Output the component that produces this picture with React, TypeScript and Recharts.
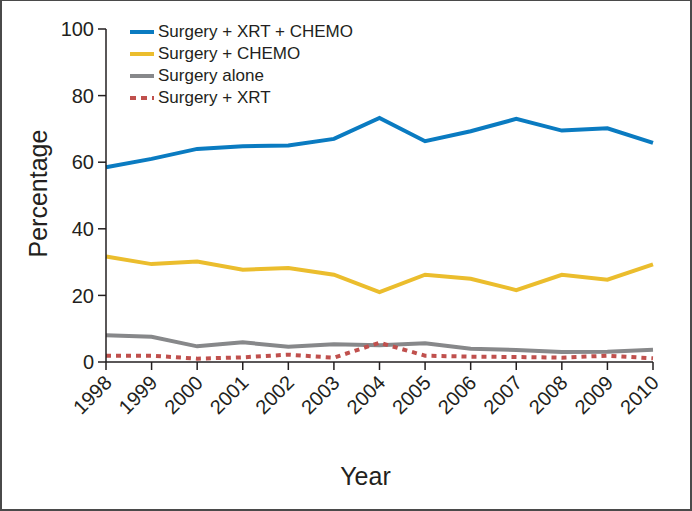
import { Line, LineChart, XAxis, YAxis } from "recharts";

const YEARS = ["1998", "1999", "2000", "2001", "2002", "2003", "2004", "2005", "2006", "2007", "2008", "2009", "2010"];
const XRT_CHEMO = [58.5, 61, 64, 64.8, 65, 67, 73.3, 66.3, 69.3, 73, 69.5, 70.2, 65.8];
const CHEMO = [31.7, 29.4, 30.2, 27.7, 28.2, 26.2, 21, 26.2, 25, 21.6, 26.2, 24.7, 29.3];
const ALONE = [8, 7.6, 4.7, 5.9, 4.6, 5.3, 5, 5.6, 4, 3.6, 3, 3.1, 3.7];
const XRT = [1.9, 1.9, 1, 1.4, 2.2, 1.3, 5.8, 1.9, 1.6, 1.5, 1.3, 1.9, 1.1];
const Y_TICKS = [0, 20, 40, 60, 80, 100];

const data = YEARS.map((year, i) => ({
  year,
  xrtChemo: XRT_CHEMO[i],
  chemo: CHEMO[i],
  alone: ALONE[i],
  xrt: XRT[i],
}));

const FONT = "'Liberation Sans', Arial, sans-serif";
const TEXT = "#231f20";

const SERIES = [
  { key: "xrtChemo", name: "Surgery + XRT + CHEMO", color: "#0a7bc1", dash: undefined },
  { key: "chemo", name: "Surgery + CHEMO", color: "#ebbd2d", dash: undefined },
  { key: "alone", name: "Surgery alone", color: "#87888a", dash: undefined },
  { key: "xrt", name: "Surgery + XRT", color: "#c0504d", dash: "5 5" },
];

const YearTick = ({ x, y, payload }: { x?: number; y?: number; payload?: { value: string } }) => {
  const tx = x! + 7;
  const ty = y! + 12;
  return (
    <text
      x={tx}
      y={ty}
      textAnchor="end"
      fontSize={20}
      fill={TEXT}
      fontFamily={FONT}
      transform={`rotate(-45, ${tx}, ${ty})`}
    >
      {payload?.value}
    </text>
  );
};

const LegendBox = () => (
  <div style={{ position: "absolute", left: 126, top: 20, fontFamily: FONT, fontSize: 17, color: TEXT }}>
    {SERIES.map((s) => (
      <div key={s.key} style={{ display: "flex", alignItems: "center", height: 22 }}>
        <svg width={30} height={6}>
          <line
            x1={2}
            y1={3}
            x2={26}
            y2={3}
            stroke={s.color}
            strokeWidth={4}
            strokeDasharray={s.dash ? "6 5" : undefined}
          />
        </svg>
        <span>{s.name}</span>
      </div>
    ))}
  </div>
);

export default function App() {
  return (
    <div
      style={{
        position: "absolute",
        left: 0,
        top: 0,
        width: 692,
        height: 511,
        boxSizing: "border-box",
        border: "2px solid #4a4a4a",
        borderTopWidth: 1,
        background: "#fff",
      }}
    >
      <LineChart
        width={688}
        height={508}
        data={data}
        margin={{ top: 29, right: 35, left: 44, bottom: 0 }}
        style={{ position: "absolute", left: -2, top: -1 }}
      >
        <XAxis
          dataKey="year"
          tick={<YearTick />}
          tickSize={8}
          interval={0}
          axisLine={{ stroke: TEXT, strokeWidth: 1.5 }}
          tickLine={{ stroke: TEXT, strokeWidth: 1.5 }}
          height={146}
          label={{ value: "Year", position: "insideBottom", offset: 23, dx: -14, fontSize: 25, fill: TEXT, fontFamily: FONT }}
        />
        <YAxis
          domain={[0, 100]}
          ticks={Y_TICKS}
          width={62}
          tickSize={8}
          tickMargin={4}
          tick={{ fontSize: 20, fill: TEXT, fontFamily: FONT }}
          axisLine={{ stroke: TEXT, strokeWidth: 1.5 }}
          tickLine={{ stroke: TEXT, strokeWidth: 1.5 }}
          label={{ value: "Percentage", angle: -90, position: "insideLeft", offset: -6, fontSize: 25, fill: TEXT, fontFamily: FONT, dy: 62 }}
        />
        {SERIES.map((s) => (
          <Line
            key={s.key}
            type="linear"
            dataKey={s.key}
            name={s.name}
            stroke={s.color}
            strokeWidth={4}
            strokeDasharray={s.dash}
            dot={false}
            isAnimationActive={false}
          />
        ))}
      </LineChart>
      <LegendBox />
    </div>
  );
}
